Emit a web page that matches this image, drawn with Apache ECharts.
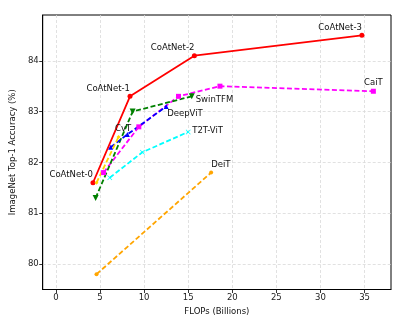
<!DOCTYPE html>
<html>
<head>
<meta charset="utf-8">
<script src="https://cdn.jsdelivr.net/npm/echarts@6/dist/echarts.min.js"></script>
<style>
html,body{margin:0;padding:0;background:#fff;}
#chart{width:409px;height:322px;}
</style>
</head>
<body>
<div id="chart"></div>
<script>
// ---- data ----
var xTicks = [0, 5, 10, 15, 20, 25, 30, 35];
var yTicks = [80, 81, 82, 83, 84];

var coatnetX = [4.2, 8.4, 15.7, 34.7];
var coatnetY = [81.6, 83.3, 84.1, 84.5];
var coatnetLabels = ['CoAtNet-0', 'CoAtNet-1', 'CoAtNet-2', 'CoAtNet-3'];

var caitX = [5.4, 9.4, 13.9, 18.6, 36.0];
var caitY = [81.8, 82.7, 83.3, 83.5, 83.4];

var swinX = [4.5, 8.7, 15.4];
var swinY = [81.3, 83.0, 83.3];

var deepvitX = [6.2, 8.1, 12.5];
var deepvitY = [82.3, 82.55, 83.1];

var t2tX = [6.1, 9.8, 15.0];
var t2tY = [81.7, 82.2, 82.6];

var deitX = [4.6, 17.6];
var deitY = [79.8, 81.8];

var cvtX = [4.6, 7.1];
var cvtY = [81.6, 82.5];

// ---- helpers ----
var FONT = 'DejaVu Sans';
function pts(xs, ys) {
  return xs.map(function (x, i) { return [x, ys[i]]; });
}
function withLabel(data, idx, text, align, vAlign, offset) {
  var d = data.slice();
  d[idx] = {
    value: data[idx],
    label: {
      show: true, formatter: text, position: 'inside',
      align: align, verticalAlign: vAlign, offset: offset,
      fontFamily: FONT, fontSize: 8.5, color: '#111'
    }
  };
  return d;
}
function lineSeries(name, data, color, dashed, symbol, size, extra) {
  var s = {
    name: name, type: 'line', data: data,
    symbol: symbol, symbolSize: size, showSymbol: true,
    lineStyle: { color: color, width: 1.8, type: dashed ? [5, 2.5] : 'solid' },
    itemStyle: { color: color, borderWidth: 0 },
    label: { show: false },
    emphasis: { disabled: true },
    animation: false, z: 3
  };
  if (extra) for (var k in extra) s[k] = extra[k];
  return s;
}

var coatnetData = pts(coatnetX, coatnetY).map(function (p, i) {
  return {
    value: p,
    label: {
      show: true, formatter: coatnetLabels[i], position: 'inside',
      align: 'right', verticalAlign: 'middle', offset: [0, -8],
      fontFamily: FONT, fontSize: 8.5, color: '#111'
    }
  };
});

var xMark = 'path://M0,1L1,0L5,4L9,0L10,1L6,5L10,9L9,10L5,6L1,10L0,9L4,5Z';

var series = [
  lineSeries('CoAtNet', coatnetData, '#ff0000', false, 'circle', 5),
  lineSeries('CaiT', withLabel(pts(caitX, caitY), caitX.length - 1, 'CaiT', 'center', 'middle', [0, -8]), '#ff00ff', true, 'rect', 5),
  lineSeries('SwinTFM', withLabel(pts(swinX, swinY), swinX.length - 1, 'SwinTFM', 'left', 'middle', [4, 3]), '#008000', true, 'triangle', 6, { symbolRotate: 180 }),
  lineSeries('DeepViT', withLabel(pts(deepvitX, deepvitY), deepvitX.length - 1, 'DeepViT', 'left', 'middle', [1, 7]), '#0000ff', true, 'triangle', 5),
  lineSeries('T2T-ViT', withLabel(pts(t2tX, t2tY), t2tX.length - 1, 'T2T-ViT', 'left', 'middle', [4, -1]), '#00ffff', true, xMark, 5),
  lineSeries('DeiT', withLabel(pts(deitX, deitY), deitX.length - 1, 'DeiT', 'left', 'middle', [0, -8]), '#ffa500', true, 'circle', 4),
  lineSeries('CvT', withLabel(pts(cvtX, cvtY), cvtX.length - 1, 'CvT', 'center', 'middle', [4.5, -8]), '#ffd700', true, 'diamond', 4)
];

var gridLine = { show: true, lineStyle: { color: '#d9d9d9', width: 0.8, type: [3, 2] } };

var option = {
  animation: false,
  backgroundColor: '#ffffff',
  grid: { left: 40, right: 18, top: 15, bottom: 32.5, show: true, borderColor: '#000', borderWidth: 1, backgroundColor: 'transparent' },
  xAxis: {
    type: 'value', min: -1.5, max: 38,
    name: 'FLOPs (Billions)', nameLocation: 'middle', nameGap: 13,
    nameTextStyle: { fontFamily: FONT, fontSize: 8.5, color: '#111' },
    axisLine: { show: true, onZero: false, lineStyle: { color: '#000', width: 1 } },
    axisTick: { show: true, length: 3.5, lineStyle: { color: '#000', width: 0.8 }, customValues: xTicks },
    axisLabel: { fontFamily: FONT, fontSize: 8.5, color: '#222', margin: 4, customValues: xTicks },
    splitLine: gridLine
  },
  yAxis: {
    type: 'value', min: 79.5, max: 84.9,
    name: 'ImageNet Top-1 Accuracy (%)', nameLocation: 'middle', nameGap: 17,
    nameTextStyle: { fontFamily: FONT, fontSize: 8.5, color: '#111' },
    axisLine: { show: true, onZero: false, lineStyle: { color: '#000', width: 1 } },
    axisTick: { show: true, length: 3.5, lineStyle: { color: '#000', width: 0.8 }, customValues: yTicks },
    axisLabel: { fontFamily: FONT, fontSize: 8.5, color: '#222', margin: 4, customValues: yTicks },
    splitLine: gridLine
  },
  series: series
};

var chart = echarts.init(document.getElementById('chart'), null, { renderer: 'canvas' });
chart.setOption(option);
</script>
</body>
</html>
